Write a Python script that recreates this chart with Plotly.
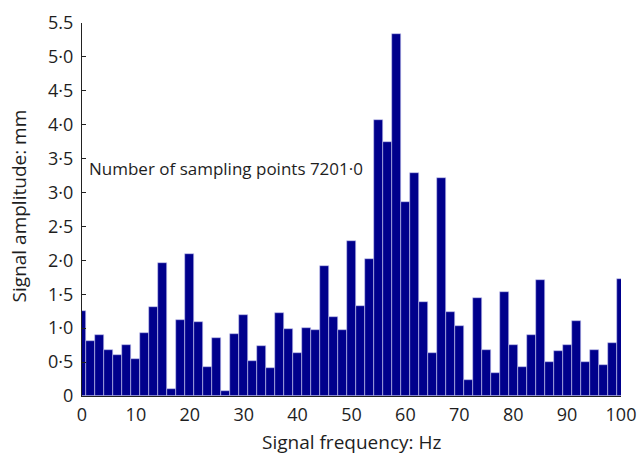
import plotly.graph_objects as go

# Spectrum bins: 61 equally spaced frequencies from 0 to 100 Hz
n_bins = 61
freq_hz = [i * 100 / (n_bins - 1) for i in range(n_bins)]

amplitude_mm = [
    1.25, 0.81, 0.90, 0.68, 0.61, 0.75, 0.55, 0.93, 1.31, 1.96,
    0.10, 1.12, 2.09, 1.09, 0.43, 0.85, 0.08, 0.92, 1.19, 0.52,
    0.74, 0.41, 1.23, 0.99, 0.63, 1.01, 0.98, 1.92, 1.16, 0.98,
    2.28, 1.33, 2.02, 4.07, 3.75, 5.34, 2.86, 3.29, 1.38, 0.635,
    3.22, 1.24, 1.03, 0.24, 1.45, 0.68, 0.34, 1.54, 0.75, 0.43,
    0.90, 1.71, 0.50, 0.66, 0.75, 1.105, 0.50, 0.68, 0.46, 0.78,
    1.72,
]

y_tick_vals = [0, 0.5, 1.0, 1.5, 2.0, 2.5, 3.0, 3.5, 4.0, 4.5, 5.0, 5.5]
y_tick_text = ["0", "0·5", "1·0", "1·5", "2·0", "2·5", "3·0", "3·5",
               "4·0", "4·5", "5·0", "5.5"]
x_tick_vals = [0, 10, 20, 30, 40, 50, 60, 70, 80, 90, 100]

FONT = "Open Sans"
TEXT = "#1e1e1e"

fig = go.Figure(
    go.Bar(
        x=freq_hz,
        y=amplitude_mm,
        width=100 / (n_bins - 1),
        marker=dict(color="#00008c", line=dict(color="#c8c8f0", width=0.6)),
        showlegend=False,
    )
)

# In-plot note
fig.add_annotation(
    x=1.0, y=3.35, xref="x", yref="y",
    text="Number of sampling points 7201·0",
    showarrow=False, xanchor="left", yanchor="middle",
    font=dict(family=FONT, size=17, color=TEXT),
)

# Axis titles
fig.add_annotation(
    x=0.5, y=-0.123, xref="paper", yref="paper",
    text="Signal frequency: Hz", showarrow=False,
    xanchor="center", yanchor="middle",
    font=dict(family=FONT, size=19, color=TEXT),
)
fig.add_annotation(
    x=-0.1176, y=0.51, xref="paper", yref="paper",
    text="Signal amplitude: mm", showarrow=False, textangle=-90,
    xanchor="center", yanchor="middle",
    font=dict(family=FONT, size=19, color=TEXT),
)

fig.update_layout(
    width=637, height=459,
    margin=dict(l=81.5, r=15.5, t=22.5, b=62.5),
    paper_bgcolor="white", plot_bgcolor="white",
    bargap=0,
    font=dict(family=FONT, size=18, color=TEXT),
)

fig.update_xaxes(
    range=[0, 100], tickvals=x_tick_vals, ticks="",
    showline=True, linecolor="#222222", linewidth=1.2,
    showgrid=False, zeroline=False, automargin=False,
    tickfont=dict(family=FONT, size=18, color=TEXT),
    ticklabelstandoff=2,
)
fig.update_yaxes(
    range=[0, 5.5], tickvals=y_tick_vals, ticktext=y_tick_text,
    ticks="inside", ticklen=4, tickcolor="#222222",
    showline=True, linecolor="#222222", linewidth=1.2,
    showgrid=False, zeroline=False, automargin=False,
    tickfont=dict(family=FONT, size=18, color=TEXT),
    ticklabelstandoff=4,
)

fig.write_html("out.html")
